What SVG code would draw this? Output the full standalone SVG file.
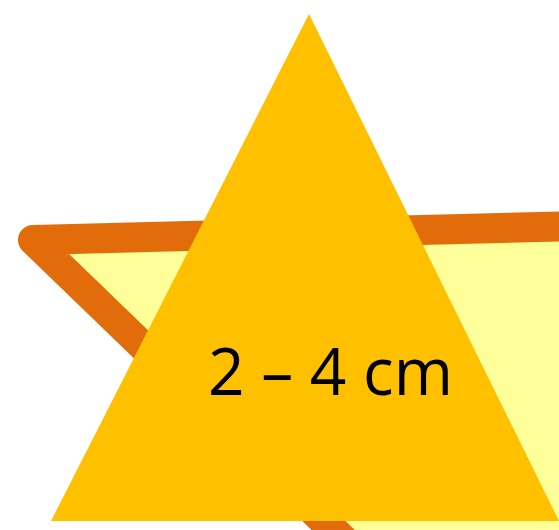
<svg xmlns="http://www.w3.org/2000/svg" width="559" height="530" viewBox="0 0 559 530">
  <style>
    .frame { fill: #FFFF99; stroke: #E36C0A; stroke-width: 30; stroke-linejoin: round; }
    .tri { fill: #FFC000; }
    .lbl { font-family: "Open Sans", "Liberation Sans", sans-serif; font-size: 65px; fill: #000000; }
  </style>
  <rect width="559" height="530" fill="#FFFFFF"/>
  <g id="back-triangle">
    <polygon class="frame" points="33,240 1500,202.3 770,952"/>
  </g>
  <g id="front-triangle">
    <polygon class="tri" points="309,14 559,521 51,521"/>
    <text class="lbl" x="330.5" y="395" text-anchor="middle" textLength="245" lengthAdjust="spacingAndGlyphs">2 – 4 cm</text>
  </g>
</svg>
